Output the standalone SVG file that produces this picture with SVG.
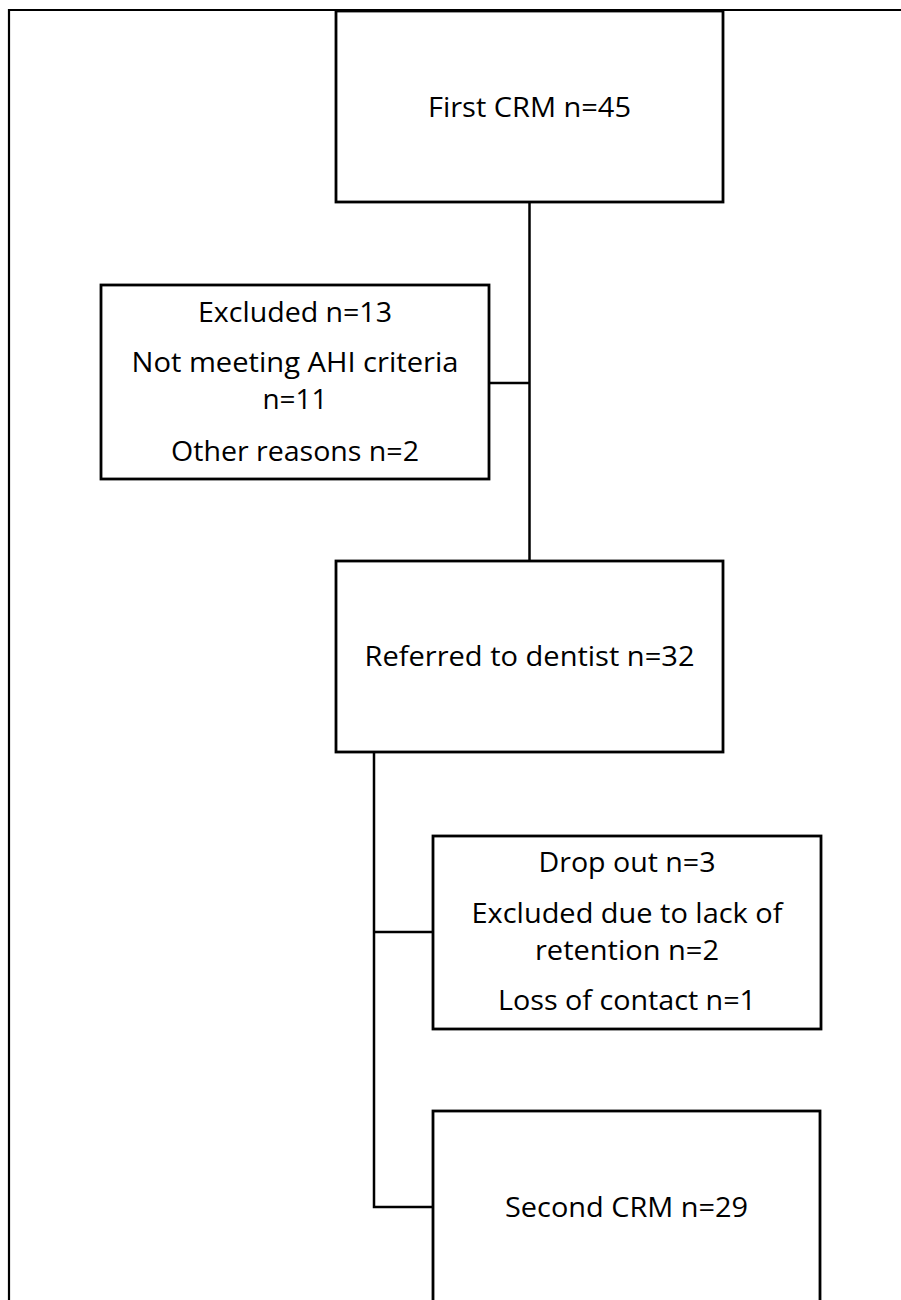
<svg xmlns="http://www.w3.org/2000/svg" width="901" height="1300" viewBox="0 0 901 1300">
<style>
.box{fill:#fff;stroke:#000;stroke-width:2.8}
.ln{fill:none;stroke:#000;stroke-width:2.5}
.t{font-family:"Open Sans","Noto Sans",sans-serif;font-size:26.5px;fill:#000;text-anchor:middle}
</style>
<rect width="901" height="1300" fill="#fff"/>
<path d="M9,1300 V10 H901" fill="none" stroke="#000" stroke-width="2.2"/>
<g id="connectors">
<path class="ln" d="M529.5,202 V561"/>
<path class="ln" d="M489,383 H529.5"/>
<path class="ln" d="M374,752 V1207 H433"/>
<path class="ln" d="M374,932 H433"/>
</g>
<g id="first-crm">
<rect class="box" x="336" y="11" width="387" height="191"/>
<text class="t" x="529.5" y="117" textLength="203" lengthAdjust="spacingAndGlyphs">First CRM n=45</text>
</g>
<g id="excluded">
<rect class="box" x="101" y="285" width="388" height="194"/>
<text class="t" x="295" y="322" textLength="194" lengthAdjust="spacingAndGlyphs">Excluded n=13</text>
<text class="t" x="295" y="372" textLength="327" lengthAdjust="spacingAndGlyphs">Not meeting AHI criteria</text>
<text class="t" x="295" y="409" textLength="65" lengthAdjust="spacingAndGlyphs">n=11</text>
<text class="t" x="295" y="461" textLength="248" lengthAdjust="spacingAndGlyphs">Other reasons n=2</text>
</g>
<g id="referred">
<rect class="box" x="336" y="561" width="387" height="191"/>
<text class="t" x="529.5" y="666" textLength="330" lengthAdjust="spacingAndGlyphs">Referred to dentist n=32</text>
</g>
<g id="dropout">
<rect class="box" x="433" y="836" width="388" height="193"/>
<text class="t" x="627" y="872" textLength="177" lengthAdjust="spacingAndGlyphs">Drop out n=3</text>
<text class="t" x="627" y="923" textLength="311" lengthAdjust="spacingAndGlyphs">Excluded due to lack of</text>
<text class="t" x="627" y="960" textLength="184" lengthAdjust="spacingAndGlyphs">retention n=2</text>
<text class="t" x="627" y="1010" textLength="258" lengthAdjust="spacingAndGlyphs">Loss of contact n=1</text>
</g>
<g id="second-crm">
<rect class="box" x="433" y="1111" width="387" height="250"/>
<text class="t" x="626.5" y="1217" textLength="243" lengthAdjust="spacingAndGlyphs">Second CRM n=29</text>
</g>
</svg>
